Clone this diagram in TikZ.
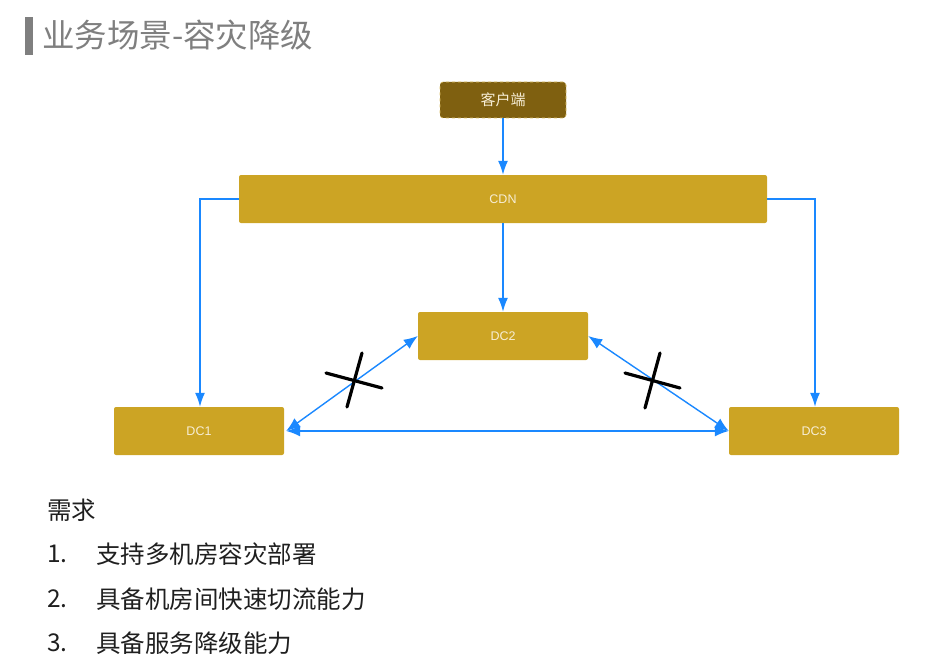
\documentclass[tikz,border=0pt]{standalone}
\usepackage{fontspec}
\setmainfont{Noto Sans CJK SC}
\newfontfamily\cjk{Noto Sans CJK SC}
\newfontfamily\lat{Liberation Sans}
\usetikzlibrary{arrows.meta}
\definecolor{gold}{HTML}{CCA424}
\definecolor{darkgold}{HTML}{7F6010}
\definecolor{arrowblue}{HTML}{1A88FF}
\definecolor{titlegray}{HTML}{7F7F7F}
\definecolor{boxtext}{HTML}{F7EED6}
\tikzset{
  box/.style={fill=gold, rounded corners=2pt, inner sep=0pt, text=boxtext, font=\lat\fontsize{12.5}{14}\selectfont},
  clientbox/.style={fill=darkgold, draw=gold!70!white, dashed, line width=0.6pt, rounded corners=3pt, inner sep=0pt, text=boxtext, font=\cjk\fontsize{15}{17}\selectfont},
  link/.style={draw=arrowblue, line width=1.4pt, -{Latex[length=14pt,width=10pt]}},
  dlink/.style={draw=arrowblue, line width=1.4pt, {Latex[length=14pt,width=11pt]}-{Latex[length=14pt,width=11pt]}},
  cross/.style={draw=black, line width=3.2pt, line cap=round},
  req/.style={anchor=west, inner sep=0pt, text=black!88, font=\cjk\fontsize{24.5}{28}\selectfont}
}
\begin{document}
\begin{tikzpicture}[x=1pt,y=-1pt]
\useasboundingbox (0,0) rectangle (938,669);
% title
\fill[titlegray] (25,17) rectangle (33,55);
\node[anchor=west, inner sep=0pt, text=titlegray, font=\cjk\fontsize{32.5}{36}\selectfont] (title) at (42,35) {业务场景-容灾降级};
% nodes
\node[clientbox, minimum width=126pt, minimum height=36pt] (client) at (503,100) {客户端};
\node[box, minimum width=528pt, minimum height=48pt] (cdn) at (503,199) {CDN};
\node[box, minimum width=170pt, minimum height=48pt] (dc2) at (503,336) {DC2};
\node[box, minimum width=170pt, minimum height=48pt] (dc1) at (199,431) {DC1};
\node[box, minimum width=170pt, minimum height=48pt] (dc3) at (814,431) {DC3};
% connectors
\draw[link] (client.south) -- (cdn.north);
\draw[link] (cdn.south) -- (dc2.north);
\coordinate (cl) at (200,199);
\coordinate (cr) at (815,199);
\draw[link] (cdn.west) -- (cl) -- (cl |- dc1.north);
\draw[link] (cdn.east) -- (cr) -- (cr |- dc3.north);
\draw[dlink] ([xshift=2pt]dc1.east) -- (dc2.west);
\draw[dlink] (dc2.east) -- (dc3.west);
\draw[dlink] ([xshift=2pt]dc1.east) -- (dc3.west);
% crosses
\coordinate (x1a) at (326,373); \coordinate (x1b) at (382,388);
\coordinate (x1c) at (362,353); \coordinate (x1d) at (347,407);
\draw[cross] (x1a) -- (x1b);
\draw[cross] (x1c) -- (x1d);
\coordinate (x2a) at (625,373); \coordinate (x2b) at (680,388);
\coordinate (x2c) at (660,353); \coordinate (x2d) at (645,408);
\draw[cross] (x2a) -- (x2b);
\draw[cross] (x2c) -- (x2d);
% requirements
\node[req] (reqh) at (47,510) {需求};
\node[req] (n1) at (47,554) {1.};
\node[req] (t1) at (96,554) {支持多机房容灾部署};
\node[req] (n2) at (47,599) {2.};
\node[req] (t2) at (96,599) {具备机房间快速切流能力};
\node[req] (n3) at (47,643) {3.};
\node[req] (t3) at (96,643) {具备服务降级能力};
\end{tikzpicture}
\end{document}
